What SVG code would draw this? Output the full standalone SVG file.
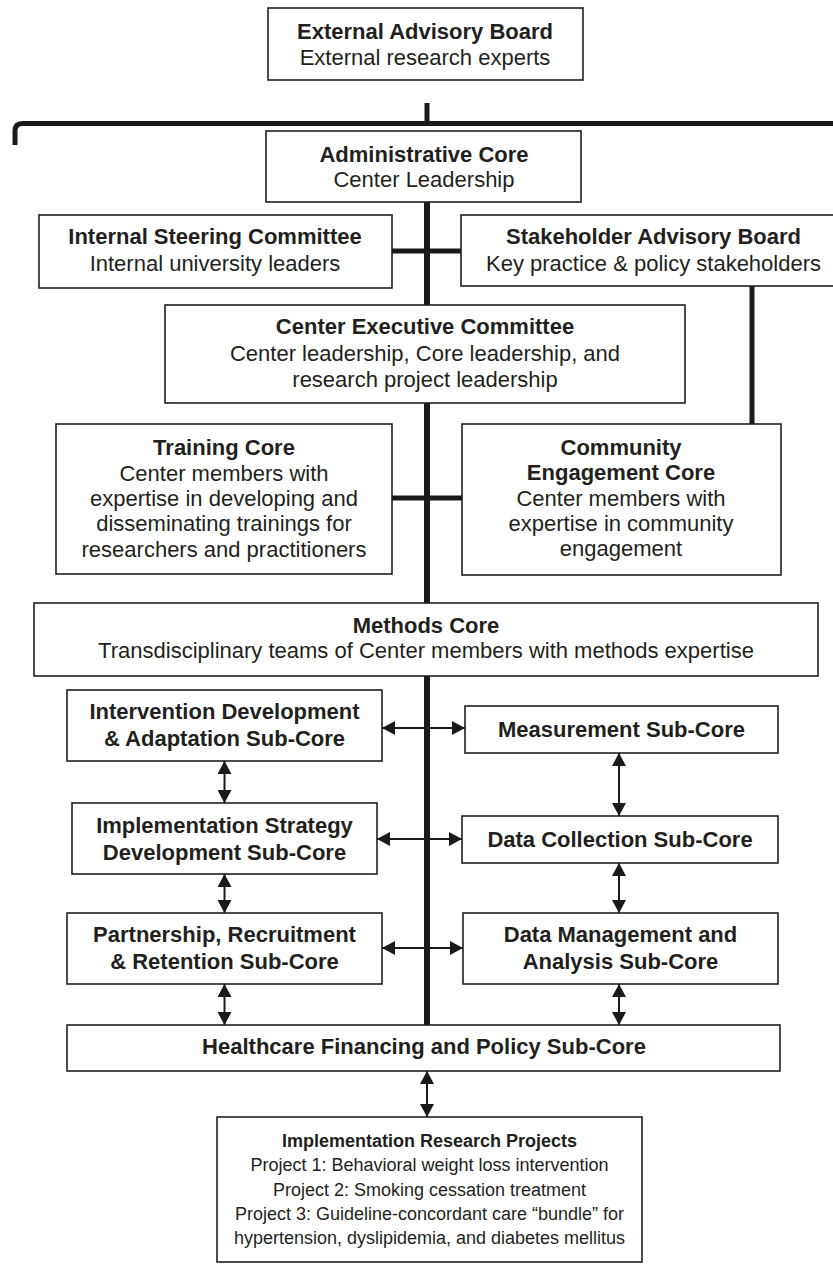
<svg xmlns="http://www.w3.org/2000/svg" width="833" height="1270" viewBox="0 0 833 1270">
<style>
.box{fill:#fff;stroke:#231f20;stroke-width:1.6}
.t{font-family:"Liberation Sans",Arial,sans-serif;font-size:22px;fill:#231f20;text-anchor:middle}
.b{font-weight:bold}
.s{font-size:18px}
.thick{stroke:#1a1a1a;fill:none}
.arr{stroke:#1a1a1a;stroke-width:2;fill:none;marker-start:url(#ah);marker-end:url(#ah)}
</style>
<defs>
<marker id="ah" viewBox="0 0 13 14" refX="13" refY="7" markerWidth="13" markerHeight="14" markerUnits="userSpaceOnUse" orient="auto-start-reverse">
<path d="M0,0 L13,7 L0,14 z" fill="#1a1a1a"/>
</marker>
</defs>
<rect width="833" height="1270" fill="#fff"/>
<g id="connectors">
<path class="thick" stroke-width="5" d="M15,145 L15,131 Q15,123.5 22.5,123.5 L833,123.5"/>
<path class="thick" stroke-width="5" d="M427,103 L427,123"/>
<path class="thick" stroke-width="6" d="M427,202 L427,1025"/>
<path class="thick" stroke-width="5" d="M392,251 L461,251"/>
<path class="thick" stroke-width="5" d="M392,498 L462,498"/>
<path class="thick" stroke-width="5" d="M752,286 L752,424"/>
<path class="arr" d="M382,728 L465,728"/>
<path class="arr" d="M377,839 L462,839"/>
<path class="arr" d="M382,948 L463,948"/>
<path class="arr" d="M224.5,761 L224.5,803"/>
<path class="arr" d="M224.5,874 L224.5,913"/>
<path class="arr" d="M224.5,984 L224.5,1025"/>
<path class="arr" d="M619,753 L619,816"/>
<path class="arr" d="M619,863 L619,913"/>
<path class="arr" d="M619,984 L619,1025"/>
<path class="arr" d="M427,1071 L427,1117"/>
</g>
<g id="external">
<rect class="box" x="268" y="8" width="315" height="72"/>
<text class="t b" x="425" y="39">External Advisory Board</text>
<text class="t" x="425" y="65">External research experts</text>
</g>
<g id="admin">
<rect class="box" x="266" y="131" width="315" height="71"/>
<text class="t b" x="424" y="162">Administrative Core</text>
<text class="t" x="424" y="187">Center Leadership</text>
</g>
<g id="steering">
<rect class="box" x="39" y="215" width="353" height="73"/>
<text class="t b" x="215" y="244">Internal Steering Committee</text>
<text class="t" x="215" y="271">Internal university leaders</text>
</g>
<g id="stakeholder">
<rect class="box" x="461" y="215" width="390" height="71"/>
<text class="t b" x="653.5" y="244">Stakeholder Advisory Board</text>
<text class="t" x="653.5" y="271">Key practice &amp; policy stakeholders</text>
</g>
<g id="executive">
<rect class="box" x="165" y="305" width="520" height="98"/>
<text class="t b" x="425" y="334">Center Executive Committee</text>
<text class="t" x="425" y="361">Center leadership, Core leadership, and</text>
<text class="t" x="425" y="387">research project leadership</text>
</g>
<g id="training">
<rect class="box" x="56" y="424" width="336" height="150"/>
<text class="t b" x="224" y="455">Training Core</text>
<text class="t" x="224" y="481">Center members with</text>
<text class="t" x="224" y="506">expertise in developing and</text>
<text class="t" x="224" y="531">disseminating trainings for</text>
<text class="t" x="224" y="557">researchers and practitioners</text>
</g>
<g id="community">
<rect class="box" x="462" y="424" width="319" height="151"/>
<text class="t b" x="621" y="455">Community</text>
<text class="t b" x="621" y="480">Engagement Core</text>
<text class="t" x="621" y="506">Center members with</text>
<text class="t" x="621" y="531">expertise in community</text>
<text class="t" x="621" y="556">engagement</text>
</g>
<g id="methods">
<rect class="box" x="34" y="603" width="784" height="73"/>
<text class="t b" x="426" y="633">Methods Core</text>
<text class="t" x="426" y="658">Transdisciplinary teams of Center members with methods expertise</text>
</g>
<g id="intervention">
<rect class="box" x="67" y="690" width="315" height="71"/>
<text class="t b" x="224.5" y="719">Intervention Development</text>
<text class="t b" x="224.5" y="746">&amp; Adaptation Sub-Core</text>
</g>
<g id="measurement">
<rect class="box" x="465" y="706" width="313" height="47"/>
<text class="t b" x="621.5" y="737">Measurement Sub-Core</text>
</g>
<g id="implementation">
<rect class="box" x="72" y="803" width="305" height="71"/>
<text class="t b" x="224.5" y="833">Implementation Strategy</text>
<text class="t b" x="224.5" y="860">Development Sub-Core</text>
</g>
<g id="datacollection">
<rect class="box" x="462" y="816" width="316" height="47"/>
<text class="t b" x="620" y="847">Data Collection Sub-Core</text>
</g>
<g id="partnership">
<rect class="box" x="67" y="913" width="315" height="71"/>
<text class="t b" x="224.5" y="942">Partnership, Recruitment</text>
<text class="t b" x="224.5" y="969">&amp; Retention Sub-Core</text>
</g>
<g id="datamanagement">
<rect class="box" x="463" y="913" width="315" height="71"/>
<text class="t b" x="620.5" y="942">Data Management and</text>
<text class="t b" x="620.5" y="969">Analysis Sub-Core</text>
</g>
<g id="healthcare">
<rect class="box" x="67" y="1025" width="713" height="46"/>
<text class="t b" x="424" y="1054">Healthcare Financing and Policy Sub-Core</text>
</g>
<g id="projects">
<rect class="box" x="217" y="1117" width="425" height="145"/>
<text class="t s b" x="429.5" y="1147">Implementation Research Projects</text>
<text class="t s" x="429.5" y="1171">Project 1: Behavioral weight loss intervention</text>
<text class="t s" x="429.5" y="1196">Project 2: Smoking cessation treatment</text>
<text class="t s" x="429.5" y="1220">Project 3: Guideline-concordant care “bundle” for</text>
<text class="t s" x="429.5" y="1244">hypertension, dyslipidemia, and diabetes mellitus</text>
</g>
</svg>
